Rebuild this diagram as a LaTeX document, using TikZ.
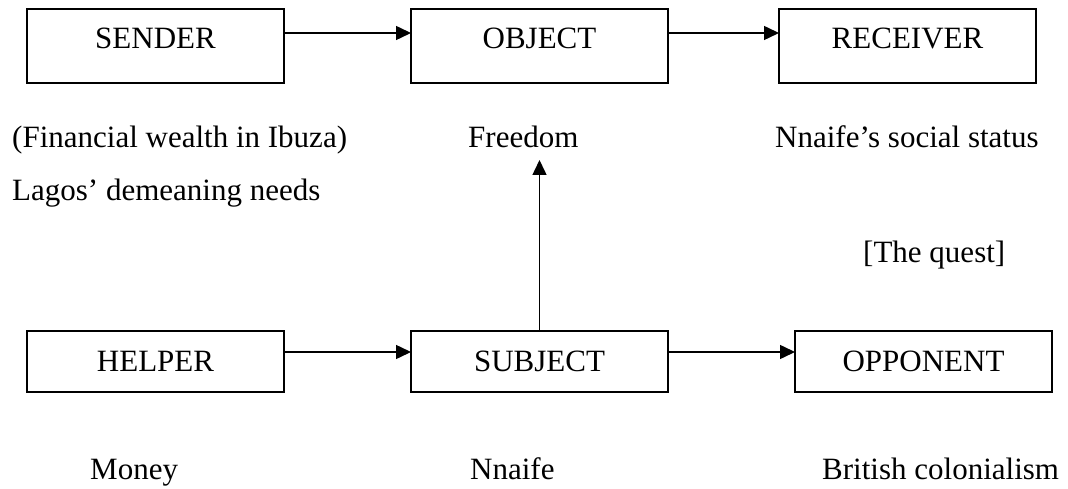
\documentclass[tikz,border=0pt]{standalone}
\usepackage{fontspec}
\setmainfont{Liberation Serif}
\usetikzlibrary{arrows.meta}

\begin{document}
\begin{tikzpicture}[x=1pt, y=-1pt,
  every node/.style={font=\fontsize{31}{37}\selectfont},
  actant/.style={draw, line width=1.5pt, rectangle, anchor=north west,
    minimum width=257pt, inner xsep=0pt, inner ysep=0pt, outer sep=0pt,
    text height=40pt, align=center},
  toprow/.style={actant, text depth=34pt},
  botrow/.style={actant, text depth=21pt},
  caption/.style={anchor=base west, inner sep=0pt},
  link/.style={line width=1.5pt, -{Triangle[length=15pt,width=14pt]}}]

  \useasboundingbox (0,0) rectangle (1068,489);

  % actant boxes
  \node[toprow] (sender)   at (27,9)   {SENDER};
  \node[toprow] (object)   at (411,9)  {OBJECT};
  \node[toprow] (receiver) at (779,9)  {RECEIVER};
  \node[botrow] (helper)   at (27,331)  {HELPER};
  \node[botrow] (subject)  at (411,331) {SUBJECT};
  \node[botrow] (opponent) at (795,331) {OPPONENT};

  % descriptions
  \node[caption] (wealth)   at (12,148)  {(Financial wealth in Ibuza)};
  \node[caption] (needs)    at (12,201)  {Lagos’ demeaning needs};
  \node[caption] (freedom)  at (468,148) {Freedom};
  \node[caption] (status)   at (775,148) {Nnaife’s social status};
  \node[caption] (quest)    at (863,262) {[The quest]};
  \node[caption] (money)    at (90,479)  {Money};
  \node[caption] (nnaife)   at (470,479) {Nnaife};
  \node[caption] (british)  at (822,479) {British colonialism};

  \coordinate (goal) at (539.5,160);

  % connectors
  \draw[link] ([yshift=13pt]sender.east) -- ([yshift=13pt]object.west);
  \draw[link] ([yshift=13pt]object.east) -- ([yshift=13pt]receiver.west);
  \draw[link] ([yshift=9.5pt]helper.east) -- ([yshift=9.5pt]subject.west);
  \draw[link] ([yshift=9.5pt]subject.east) -- ([yshift=9.5pt]opponent.west);
  \draw[link] (subject.north) -- (goal);
\end{tikzpicture}
\end{document}
